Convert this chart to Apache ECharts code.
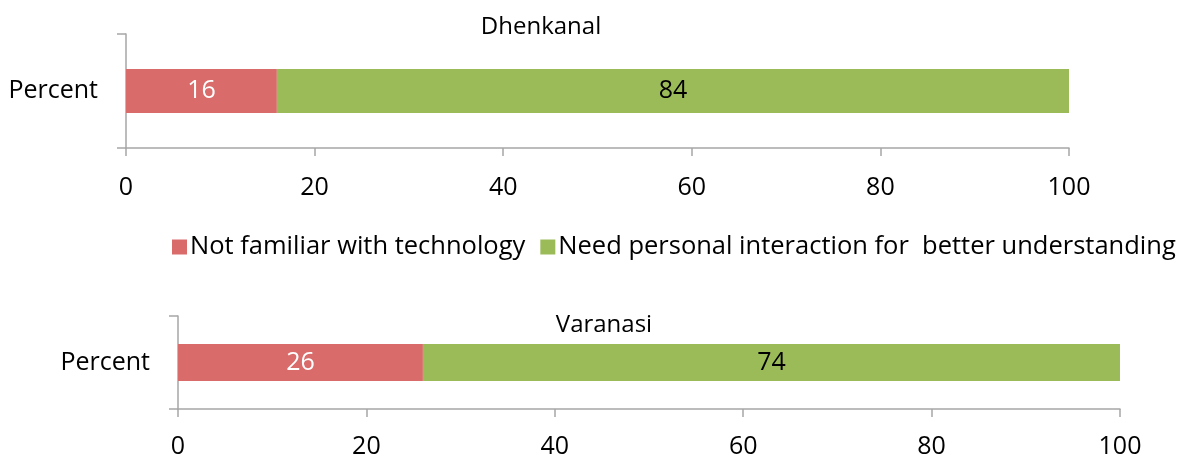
<!DOCTYPE html>
<html lang="en">
<head>
	<meta charset="utf-8">
	<title>Dhenkanal / Varanasi</title>
	<script src="https://cdn.jsdelivr.net/npm/echarts@6/dist/echarts.min.js"></script>
	<style type="text/css">
		html, body {margin:0;padding:0;background:#FFFFFF}
		#chart {width:1177px;height:459px}
	</style>
</head>
<body>
	<div id="chart"></div>
	<script>
		// data
		var categories = ['Percent'];
		var seriesNames = ['Not familiar with technology', 'Need personal interaction for  better understanding'];
		var dhenkanalNotFamiliar = [16];
		var dhenkanalNeedPersonal = [84];
		var varanasiNotFamiliar = [26];
		var varanasiNeedPersonal = [74];
		var xTicks = [0, 20, 40, 60, 80, 100];

		var RED = '#DA6B6B';
		var GREEN = '#9BBB59';
		var AXIS = '#A6A6A6';
		var FONT = 'Open Sans';

		var myChart = echarts.init(document.getElementById('chart'));

		function xAxisOf(grid, margin) {
			return {
				type: 'value', gridIndex: grid,
				min: xTicks[0], max: xTicks[xTicks.length - 1], interval: xTicks[1] - xTicks[0],
				splitLine: {show: false},
				axisLine: {show: true, lineStyle: {color: AXIS, width: 1.5}},
				axisTick: {show: true, length: 8, lineStyle: {color: AXIS, width: 1.5}},
				axisLabel: {color: '#000', fontSize: 25, fontFamily: FONT, margin: margin}
			};
		}
		function yAxisOf(grid) {
			return {
				type: 'category', gridIndex: grid, data: categories,
				axisLine: {show: true, lineStyle: {color: AXIS, width: 1.5}},
				axisTick: {show: true, length: 9, lineStyle: {color: AXIS, width: 1.5}},
				axisLabel: {color: '#000', fontSize: 25, fontFamily: FONT, margin: 28}
			};
		}
		function barOf(name, data, color, labelColor, grid, width) {
			return {
				name: name, type: 'bar', stack: 'g' + grid,
				xAxisIndex: grid, yAxisIndex: grid,
				data: data, barWidth: width,
				itemStyle: {color: color},
				label: {show: true, position: 'inside', color: labelColor, fontSize: 25, fontFamily: FONT},
				emphasis: {disabled: true}
			};
		}

		var option = {
			animation: false,
			textStyle: {fontFamily: FONT},
			title: [
				{text: 'Dhenkanal', left: 536, top: 10, textAlign: 'center',
				 textStyle: {fontSize: 24, fontWeight: 'normal', color: '#000', fontFamily: FONT}},
				{text: 'Varanasi', left: 599, top: 308, textAlign: 'center',
				 textStyle: {fontSize: 24, fontWeight: 'normal', color: '#000', fontFamily: FONT}}
			],
			legend: {
				data: seriesNames, left: 172, top: 234, width: 1005, padding: 0,
				itemWidth: 15, itemHeight: 15, itemGap: 15,
				icon: 'rect',
				textStyle: {fontSize: 25.5, color: '#000', fontFamily: FONT, padding: [0, 0, 0, -2]}
			},
			grid: [
				{left: 126, top: 34, width: 943, height: 114},
				{left: 178, top: 316, width: 942, height: 93}
			],
			xAxis: [xAxisOf(0, 27), xAxisOf(1, 25)],
			yAxis: [yAxisOf(0), yAxisOf(1)],
			series: [
				barOf(seriesNames[0], dhenkanalNotFamiliar, RED, '#FFFFFF', 0, 44),
				barOf(seriesNames[1], dhenkanalNeedPersonal, GREEN, '#000000', 0, 44),
				barOf(seriesNames[0], varanasiNotFamiliar, RED, '#FFFFFF', 1, 37),
				barOf(seriesNames[1], varanasiNeedPersonal, GREEN, '#000000', 1, 37)
			]
		};

		myChart.setOption(option);
	</script>
</body>
</html>
